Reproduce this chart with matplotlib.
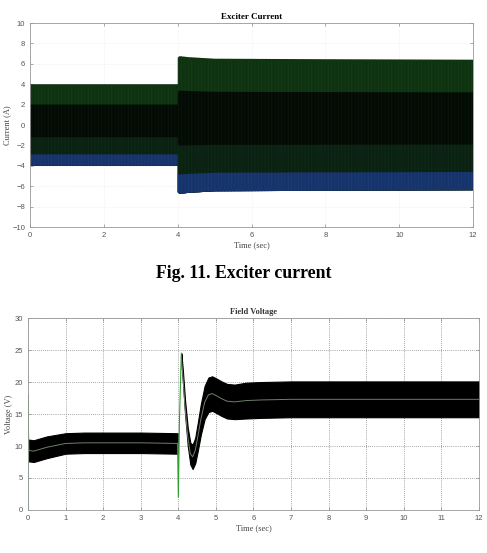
import matplotlib.pyplot as plt

# Exciter current: envelope of the fast oscillation (A)
cur_t = [0.0, 4.0, 4.0, 4.05, 4.3, 5.0, 8.0, 12.0]
cur_amp = [4.0, 4.0, 6.6, 6.75, 6.65, 6.5, 6.45, 6.4]
# colour layers: upper edge of each, as fraction of the envelope
layer_frac = [1.0, 0.5, -0.3, -0.72]
layer_col = ["#0f3211", "#040b05", "#0b2213", "#16336a"]
layer_hatch = ["#17421a", "#0b1d0d", "#123019", "#1f4382"]

# Field voltage: band centre and half-width (V)
fv_t = [0.02, 0.15, 0.5, 1.0, 1.5, 2.0, 3.0, 3.98,
        4.08, 4.12, 4.18, 4.25, 4.32, 4.38, 4.45, 4.52, 4.6, 4.7, 4.8, 4.9,
        5.0, 5.15, 5.3, 5.5, 5.8, 6.2, 7.0, 12.0]
fv_mid = [9.3, 9.2, 9.8, 10.4, 10.5, 10.5, 10.5, 10.4,
          23.8, 21.0, 16.0, 11.5, 8.8, 8.3, 9.3, 11.5, 14.2, 16.8, 18.0, 18.2,
          17.9, 17.4, 17.0, 16.9, 17.1, 17.2, 17.3, 17.3]
fv_half = [1.7, 1.7, 1.7, 1.6, 1.6, 1.6, 1.6, 1.6,
           0.7, 0.9, 1.1, 1.4, 1.7, 1.9, 2.0, 2.2, 2.4, 2.6, 2.7, 2.7,
           2.7, 2.7, 2.7, 2.7, 2.8, 2.8, 2.8, 2.8]
# green transients at switching instants
sp1_t = [0.0, 0.0, 0.02]
sp1_v = [0.0, 18.0, 9.3]
sp2_t = [3.98, 4.0, 4.03, 4.08]
sp2_v = [10.4, 2.0, 14.0, 24.5]

plt.rcParams['font.family'] = 'Liberation Serif'
plt.rcParams['hatch.linewidth'] = 0.3

fig = plt.figure(figsize=(4.87, 5.53), dpi=100)

tick_kw = dict(labelsize=5.5, labelcolor="#555555", direction="in",
               length=2.5, width=0.5, color="#888888",
               labelfontfamily="Liberation Sans")

# ---- top: exciter current ----
ax1 = fig.add_axes([0.0616, 0.5895, 0.910, 0.3689])
low = [-a for a in cur_amp]
# each layer reaches down to the bottom; later layers cover the lower part
for frac, c, hc in zip(layer_frac, layer_col, layer_hatch):
    hi = [a * frac for a in cur_amp]
    ax1.fill_between(cur_t, low, hi, facecolor=c, lw=0, hatch="|||||",
                     edgecolor=hc)
ax1.set_xlim(0, 12)
ax1.set_ylim(-10, 10)
ax1.set_xticks(range(0, 13, 2))
ax1.set_yticks(range(-10, 11, 2))
ax1.grid(True, color="#e6e6e6", lw=0.5, ls=(0, (1, 2)))
ax1.set_axisbelow(True)
ax1.tick_params(right=True, top=True, **tick_kw)
for s in ax1.spines.values():
    s.set_color("#999999")
    s.set_linewidth(0.6)
ax1.set_title("Exciter Current", fontsize=6.5, fontweight="bold", pad=3)
ax1.set_xlabel("Time (sec)", fontsize=6, color="#444444", labelpad=2)
ax1.set_ylabel("Current (A)", fontsize=6, color="#444444", labelpad=1)

fig.text(0.5, 1 - 273 / 553, "Fig. 11. Exciter current", ha="center", va="center",
         fontsize=12.8, fontweight="bold")

# ---- bottom: field voltage ----
ax2 = fig.add_axes([0.0575, 0.0778, 0.926, 0.347])
lo = [m - h for m, h in zip(fv_mid, fv_half)]
hi = [m + h for m, h in zip(fv_mid, fv_half)]
ax2.fill_between(fv_t[:8], lo[:8], hi[:8], color="black", lw=0.8, edgecolor="black")
ax2.fill_between(fv_t[8:], lo[8:], hi[8:], color="black", lw=0.8, edgecolor="black")
ax2.plot(fv_t[:8], fv_mid[:8], color="#6f7f6a", lw=0.7)
ax2.plot(fv_t[8:], fv_mid[8:], color="#6f7f6a", lw=0.7)
ax2.plot(sp1_t, sp1_v, color="#2ea02e", lw=0.8)
ax2.plot(sp2_t, sp2_v, color="#2ea02e", lw=0.8)
ax2.set_xlim(0, 12)
ax2.set_ylim(0, 30)
ax2.set_xticks(range(0, 13))
ax2.set_yticks(range(0, 31, 5))
ax2.grid(True, color="#888888", lw=0.6, ls=(0, (1, 1.5)))
ax2.set_axisbelow(True)
ax2.tick_params(right=True, top=True, **tick_kw)
for s in ax2.spines.values():
    s.set_color("#999999")
    s.set_linewidth(0.6)
ax2.set_title("Field Voltage", fontsize=6, fontweight="bold", pad=3, color="#333333")
ax2.set_xlabel("Time (sec)", fontsize=6, color="#444444", labelpad=2)
ax2.set_ylabel("Voltage (V)", fontsize=6, color="#444444", labelpad=1)

fig.savefig("out.png", dpi=100)
